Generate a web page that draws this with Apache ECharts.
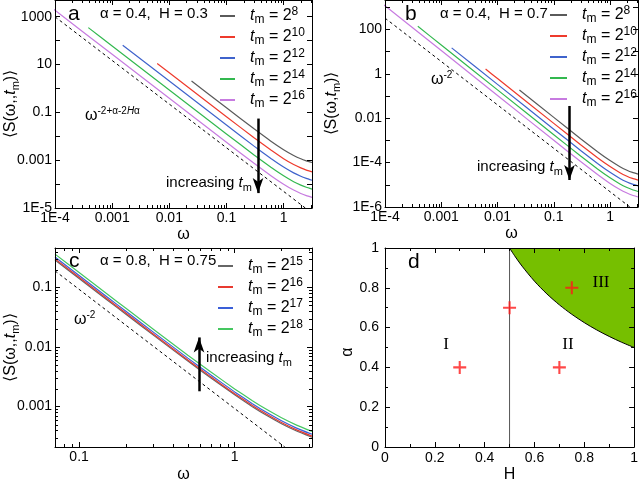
<!DOCTYPE html>
<html><head><meta charset="utf-8">
<script src="https://cdn.jsdelivr.net/npm/echarts@6.0.0/dist/echarts.min.js"></script>
<style>html,body{margin:0;padding:0;background:#fff}#c{width:641px;height:484px}</style>
</head><body><div id="c"></div>
<script>
// ---------- Panel a (alpha = 0.4, H = 0.3) ----------
const a_w8  = [0.0245, 0.1, 0.3, 0.6, 1, 1.5, 2, 2.5, 3.1416];
const a_s8  = [2.05, 0.155, 0.0210, 6.25e-3, 2.76e-3, 1.58e-3, 1.14e-3, 9.4e-4, 8.0e-4];
const a_w10 = [0.00614, 0.01, 0.1, 0.3, 0.6, 1, 1.5, 2, 2.5, 3.1416];
const a_s10 = [11.1, 4.54, 0.0658, 8.89e-3, 2.64e-3, 1.16e-3, 6.59e-4, 4.75e-4, 3.86e-4, 3.25e-4];
const a_w12 = [0.00153, 0.01, 0.1, 0.3, 0.6, 1, 1.5, 2, 2.5, 3.1416];
const a_s12 = [63.8, 2.03, 0.0294, 3.97e-3, 1.18e-3, 5.18e-4, 2.94e-4, 2.12e-4, 1.73e-4, 1.45e-4];
const a_w14 = [3.83e-4, 1e-3, 0.01, 0.1, 0.3, 0.6, 1, 1.5, 2, 2.5, 3.1416];
const a_s14 = [350, 59.8, 0.865, 0.01253, 1.69e-3, 5.02e-4, 2.21e-4, 1.256e-4, 9.06e-5, 7.36e-5, 6.19e-5];
const a_w16 = [9.6e-5, 1e-3, 0.01, 0.1, 0.3, 0.6, 1, 1.5, 2, 2.5, 3.1416];
const a_s16 = [1995, 26.7, 0.386, 5.6e-3, 7.57e-4, 2.24e-4, 9.86e-5, 5.61e-5, 4.05e-5, 3.29e-5, 2.77e-5];
const a_guideW = [1e-4, 2.4];
const a_guideS = [990, 1.0e-5];

// ---------- Panel b (alpha = 0.4, H = 0.7) ----------
const b_w8  = [0.0245, 0.1, 0.3, 0.6, 1, 1.5, 2, 2.5, 3.1416];
const b_s8  = [0.1845, 0.01084, 1.19e-3, 3.10e-4, 1.23e-4, 6.55e-5, 4.54e-5, 3.61e-5, 3.02e-5];
const b_w10 = [0.00614, 0.01, 0.1, 0.3, 0.6, 1, 1.5, 2, 2.5, 3.1416];
const b_s10 = [1.63, 0.608, 5.82e-3, 6.41e-4, 1.66e-4, 6.62e-5, 3.52e-5, 2.44e-5, 1.94e-5, 1.62e-5];
const b_w12 = [0.00153, 0.01, 0.1, 0.3, 0.6, 1, 1.5, 2, 2.5, 3.1416];
const b_s12 = [14.7, 0.334, 3.2e-3, 3.52e-4, 9.14e-5, 3.64e-5, 1.93e-5, 1.34e-5, 1.067e-5, 8.91e-6];
const b_w14 = [3.83e-4, 1e-3, 0.01, 0.1, 0.3, 0.6, 1, 1.5, 2, 2.5, 3.1416];
const b_s14 = [136.8, 19.7, 0.188, 1.80e-3, 1.98e-4, 5.14e-5, 2.05e-5, 1.087e-5, 7.53e-6, 6.0e-6, 5.01e-6];
const b_w16 = [9.6e-5, 1e-3, 0.01, 0.1, 0.3, 0.6, 1, 1.5, 2, 2.5, 3.1416];
const b_s16 = [1259, 11.07, 0.1057, 1.01e-3, 1.114e-4, 2.89e-5, 1.15e-5, 6.11e-6, 4.24e-6, 3.37e-6, 2.82e-6];
const b_guideW = [1e-4, 2.3];
const b_guideS = [321, 9.6e-7];

// ---------- Panel c (alpha = 0.8, H = 0.75) ----------
const c_w   = [0.07, 0.1, 0.15, 0.2, 0.3, 0.5, 0.7, 1, 1.3, 1.6, 2, 2.5, 3.1416];
const c_s15 = [0.2884, 0.1414, 0.0630, 0.03548, 0.01586, 5.81e-3, 3.05e-3, 1.576e-3, 9.98e-4, 7.15e-4, 5.16e-4, 3.89e-4, 3.06e-4];
const c_s16 = [0.302, 0.148, 0.066, 0.03715, 0.01661, 6.08e-3, 3.19e-3, 1.65e-3, 1.045e-3, 7.49e-4, 5.40e-4, 4.07e-4, 3.20e-4];
const c_s17 = [0.3236, 0.1587, 0.0707, 0.0398, 0.0178, 6.52e-3, 3.42e-3, 1.768e-3, 1.12e-3, 8.02e-4, 5.79e-4, 4.36e-4, 3.43e-4];
const c_s18 = [0.3631, 0.178, 0.0793, 0.04467, 0.01997, 7.31e-3, 3.84e-3, 1.984e-3, 1.256e-3, 9.0e-4, 6.5e-4, 4.9e-4, 3.85e-4];
const c_guideW = [0.07, 2.1];
const c_guideS = [0.19, 2.1e-4];

// ---------- Panel d (phase diagram) ----------
const d_boundH = [0.5, 0.52, 0.55, 0.6, 0.65, 0.7, 0.75, 0.8, 0.85, 0.9, 0.95, 1];
const d_boundA = [1, 0.9615, 0.9091, 0.8333, 0.7692, 0.7143, 0.6667, 0.625, 0.5882, 0.5556, 0.5263, 0.5];
const d_lineH = [0.5, 0.5];
const d_lineA = [0, 1];
const d_ptH = [0.3, 0.5, 0.7, 0.75];
const d_ptA = [0.4, 0.7, 0.4, 0.8];

// ---------- tick labels ----------
const ab_xTicks = [1e-4, 1e-3, 0.01, 0.1, 1];
const ab_xLabels = ['1E-4', '0.001', '0.01', '0.1', '1'];
const a_yTicks = [1e-5, 1e-3, 0.1, 10, 1000];
const a_yLabels = ['1E-5', '0.001', '0.1', '10', '1000'];
const b_yTicks = [1e-6, 1e-4, 0.01, 1, 100];
const b_yLabels = ['1E-6', '1E-4', '0.01', '1', '100'];
const c_xTicks = [0.1, 1];
const c_xLabels = ['0.1', '1'];
const c_yTicks = [0.001, 0.01, 0.1];
const c_yLabels = ['0.001', '0.01', '0.1'];

const legA = ['8', '10', '12', '14', '16'];
const legC = ['15', '16', '17', '18'];
const colA = ['#5a5a5a', '#ee3a2c', '#3f63cc', '#33b84f', '#c77be0'];
const colC = ['#666666', '#e83a30', '#3a5fd8', '#45c760'];

const FONT = '"Liberation Sans", Arial, Helvetica, sans-serif';
const SERIF = '"Liberation Serif", "Times New Roman", serif';

const SUP = {fontFamily: FONT, fontSize: 10, verticalAlign: 'top', lineHeight: 10};
const SUPI = {fontFamily: FONT, fontSize: 10, fontStyle: 'italic', verticalAlign: 'top', lineHeight: 10};
const SUB = {fontFamily: FONT, fontSize: 11, verticalAlign: 'bottom', lineHeight: 11};
const IT = {fontFamily: FONT, fontSize: 15, fontStyle: 'italic', lineHeight: 20};

function pairs(xs, ys) { return xs.map((x, i) => [x, ys[i]]); }
function fmtFrom(ticks, labels) {
  return function (v) {
    for (let i = 0; i < ticks.length; i++) {
      if (Math.abs(Math.log10(v) - Math.log10(ticks[i])) < 1e-6) return labels[i];
    }
    return '';
  };
}
function logMinor(lo, hi) {
  const out = [];
  for (let e = Math.floor(Math.log10(lo)) - 1; e <= Math.ceil(Math.log10(hi)); e++) {
    for (let k = 2; k <= 9; k++) {
      const v = k * Math.pow(10, e);
      if (v > lo * 1.0001 && v < hi * 0.9999) out.push(v);
    }
  }
  return out;
}

const yNameStyle = {fontFamily: FONT, fontSize: 16, color: '#000', lineHeight: 20,
  rich: {t: {fontFamily: FONT, fontSize: 16, fontStyle: 'italic', lineHeight: 20}, s: SUB}};
const xNameStyle = {fontFamily: FONT, fontSize: 16, color: '#000'};

function axes(dir, gi, cfg) {
  const common = {gridIndex: gi, type: cfg.type, min: cfg.min, max: cfg.max, z: 10,
    axisLine: {show: true, onZero: false, lineStyle: {color: '#000', width: 1}},
    axisTick: {show: true, inside: true, length: 5, lineStyle: {color: '#000', width: 1}},
    splitLine: {show: false}, minorSplitLine: {show: false}, silent: true};
  if (cfg.type === 'log') common.logBase = 10;
  if (cfg.interval) common.interval = cfg.interval;
  if (cfg.minor) common.minorTick = {show: true, splitNumber: cfg.minor, length: 3, lineStyle: {color: '#000', width: 1}};
  const main = Object.assign({}, common, {
    position: dir === 'x' ? 'bottom' : 'left',
    axisLabel: {show: true, color: '#000', fontFamily: FONT, fontSize: 14, margin: cfg.margin,
      formatter: cfg.fmt, showMinLabel: true, showMaxLabel: true},
    name: cfg.name, nameLocation: 'middle', nameGap: cfg.nameGap, nameRotate: dir === 'y' ? 90 : 0,
    nameMoveOverlap: false,
    nameTextStyle: dir === 'y' ? yNameStyle : xNameStyle
  });
  const mirror = Object.assign({}, common, {position: dir === 'x' ? 'top' : 'right', axisLabel: {show: false}, name: ''});
  return [main, mirror];
}

function line(name, ai, ws, ss, color) {
  return {type: 'line', name, xAxisIndex: ai, yAxisIndex: ai, data: pairs(ws, ss),
    showSymbol: false, symbol: 'none', smooth: 0.15,
    lineStyle: {color, width: 1.2}, itemStyle: {color}, emphasis: {disabled: true}, z: 3};
}
function arrow(p1, p2) {
  return {silent: true, symbol: ['none', 'arrow'], symbolSize: [8, 15], label: {show: false},
    lineStyle: {color: '#000', width: 2.5, type: 'solid'}, itemStyle: {color: '#000'},
    emphasis: {disabled: true}, animation: false, data: [[{coord: p1}, {coord: p2}]]};
}
function guide(ai, ws, ss, arr) {
  return {type: 'line', name: 'guide' + ai, xAxisIndex: ai, yAxisIndex: ai, data: pairs(ws, ss),
    showSymbol: false, symbol: 'none', lineStyle: {color: '#000', width: 1, type: [3, 3]},
    itemStyle: {color: '#000'}, emphasis: {disabled: true}, z: 3, markLine: arr};
}
function minorTicks(ai, xs, ys, xRef, yRef) {
  const data = xs.map(v => [v, yRef, 0]).concat(ys.map(v => [xRef, v, 1]));
  return {type: 'custom', xAxisIndex: ai, yAxisIndex: ai, silent: true, z: 11,
    dimensions: ['x', 'y', 'k'], encode: {x: 0, y: 1}, data,
    renderItem: function (params, api) {
      const cs = params.coordSys;
      const p = api.coord([api.value(0), api.value(1)]);
      const L = 3; const st = {stroke: '#000', lineWidth: 1};
      if (api.value(2) === 0) {
        const x = Math.round(p[0]) + 0.5;
        return {type: 'group', children: [
          {type: 'line', shape: {x1: x, y1: cs.y + cs.height, x2: x, y2: cs.y + cs.height - L}, style: st},
          {type: 'line', shape: {x1: x, y1: cs.y, x2: x, y2: cs.y + L}, style: st}]};
      }
      const y = Math.round(p[1]) + 0.5;
      return {type: 'group', children: [
        {type: 'line', shape: {x1: cs.x, y1: y, x2: cs.x + L, y2: y}, style: st},
        {type: 'line', shape: {x1: cs.x + cs.width, y1: y, x2: cs.x + cs.width - L, y2: y}, style: st}]};
    }};
}
function legendText(p) { return '{g| }{t|t}{s|m}{n| = 2}{p|' + p + '}'; }
const legRich = {
  g: {width: 10},
  t: {fontFamily: FONT, fontSize: 16, fontStyle: 'italic', lineHeight: 20},
  n: {fontFamily: FONT, fontSize: 16, lineHeight: 20},
  s: {fontFamily: FONT, fontSize: 12, verticalAlign: 'bottom', lineHeight: 12},
  p: {fontFamily: FONT, fontSize: 12, verticalAlign: 'top', lineHeight: 11}
};
function legend(left, top, names, labels, iw) {
  const map = {}; names.forEach((n, i) => { map[n] = legendText(labels[i]); });
  return {orient: 'vertical', left, top, padding: 0, itemWidth: iw, itemHeight: 2, itemGap: 1,
    icon: 'rect', selectedMode: false, data: names, formatter: n => map[n],
    textStyle: {color: '#000', fontFamily: FONT, fontSize: 16, lineHeight: 20, rich: legRich}};
}
function txt(x, y, text, size, extra) {
  return {type: 'text', x, y, silent: true, z: 100,
    style: Object.assign({text, fontFamily: FONT, fontSize: size, fill: '#000', verticalAlign: 'middle',
      align: 'left', lineHeight: 20, rich: {t: IT, s: SUB, p: SUP, q: SUPI}}, extra || {})};
}

const xA = axes('x', 0, {type: 'log', min: 1e-4, max: 3.1416, fmt: fmtFrom(ab_xTicks, ab_xLabels), margin: 3, name: 'ω', nameGap: 19});
const yA = axes('y', 0, {type: 'log', min: 1e-5, max: 5000, fmt: fmtFrom(a_yTicks, a_yLabels), margin: 3, name: '⟨S(ω,,{t|t}{s|m})⟩', nameGap: 34});
const xB = axes('x', 1, {type: 'log', min: 1e-4, max: 3.1416, fmt: fmtFrom(ab_xTicks, ab_xLabels), margin: 3, name: 'ω', nameGap: 19});
const yB = axes('y', 1, {type: 'log', min: 1e-6, max: 2100, fmt: fmtFrom(b_yTicks, b_yLabels), margin: 3, name: '⟨S(ω,{t|t}{s|m})⟩', nameGap: 43});
const xC = axes('x', 2, {type: 'log', min: 0.07, max: 3.1416, fmt: fmtFrom(c_xTicks, c_xLabels), margin: 3, name: 'ω', nameGap: 20});
const yC = axes('y', 2, {type: 'log', min: 2.1e-4, max: 0.46, fmt: fmtFrom(c_yTicks, c_yLabels), margin: 3, name: '⟨S(ω,,{t|t}{s|m})⟩', nameGap: 34});
const xD = axes('x', 3, {type: 'value', min: 0, max: 1, interval: 0.2, minor: 2, margin: 4, name: 'H', nameGap: 20});
const yD = axes('y', 3, {type: 'value', min: 0, max: 1, interval: 0.2, minor: 2, margin: 6, name: '', nameGap: 30});

const series = [];
const namesA = [], namesB = [], namesC = [];
[[a_w8, a_s8], [a_w10, a_s10], [a_w12, a_s12], [a_w14, a_s14], [a_w16, a_s16]].forEach((d, i) => {
  const n = 'a' + legA[i]; namesA.push(n); series.push(line(n, 0, d[0], d[1], colA[i]));
});
series.push(guide(0, a_guideW, a_guideS, arrow([0.357, 0.055], [0.357, 4.2e-5])));
series.push(minorTicks(0, logMinor(1e-4, 3.1416), [], 1e-4, 1e-5));

[[b_w8, b_s8], [b_w10, b_s10], [b_w12, b_s12], [b_w14, b_s14], [b_w16, b_s16]].forEach((d, i) => {
  const n = 'b' + legA[i]; namesB.push(n); series.push(line(n, 2, d[0], d[1], colA[i]));
});
series.push(guide(2, b_guideW, b_guideS, arrow([0.19, 0.0355], [0.19, 1.64e-5])));
series.push(minorTicks(2, logMinor(1e-4, 3.1416), [], 1e-4, 1e-6));

[c_s15, c_s16, c_s17, c_s18].forEach((s, i) => {
  const n = 'c' + legC[i]; namesC.push(n); series.push(line(n, 4, c_w, s, colC[i]));
});
series.push(guide(4, c_guideW, c_guideS, arrow([0.59, 1.81e-3], [0.59, 0.0145])));
series.push(minorTicks(4, logMinor(0.07, 3.1416), logMinor(2.1e-4, 0.46), 0.07, 2.1e-4));

series.push({type: 'line', name: 'III', xAxisIndex: 6, yAxisIndex: 6, data: pairs(d_boundH, d_boundA),
  showSymbol: false, symbol: 'none', smooth: 0.3, lineStyle: {color: '#000', width: 1},
  areaStyle: {color: '#76bf00', opacity: 1, origin: 'end'}, emphasis: {disabled: true}, z: 2});
series.push({type: 'line', name: 'Hhalf', xAxisIndex: 6, yAxisIndex: 6, data: pairs(d_lineH, d_lineA),
  showSymbol: false, symbol: 'none', lineStyle: {color: '#555', width: 1}, emphasis: {disabled: true}, z: 3});
series.push({type: 'scatter', name: 'pts', xAxisIndex: 6, yAxisIndex: 6, data: pairs(d_ptH, d_ptA),
  symbol: 'path://M4.2 0H5.8V4.2H10V5.8H5.8V10H4.2V5.8H0V4.2H4.2Z', symbolSize: 13,
  itemStyle: {color: '#ff1a1a'}, emphasis: {disabled: true}, z: 5});

const chart = echarts.init(document.getElementById('c'), null, {renderer: 'canvas'});
chart.setOption({
  animation: false,
  backgroundColor: '#fff',
  grid: [
    {left: 53, top: 0, width: 259, height: 208},
    {left: 385, top: 0, width: 254, height: 207},
    {left: 53, top: 248, width: 259, height: 204},
    {left: 385, top: 248, width: 254, height: 204}
  ],
  xAxis: [].concat(xA, xB, xC, xD),
  yAxis: [].concat(yA, yB, yC, yD),
  legend: [
    legend(220, 6, namesA, legA, 15),
    legend(550, 5, namesB, legA, 17),
    legend(218, 256, namesC, legC, 15)
  ],
  series,
  graphic: [
    txt(68, 14, 'a', 21), txt(100, 14, 'α = 0.4,  H = 0.3', 15),
    txt(85, 116, 'ω{p|-2+α-2}{q|H}{p|α}', 16), txt(166, 183, 'increasing {t|t}{s|m}', 15),
    txt(405, 14, 'b', 21), txt(440, 14, 'α = 0.4,  H = 0.7', 15),
    txt(431, 80, 'ω{p|-2}', 16), txt(477, 167, 'increasing {t|t}{s|m}', 15),
    txt(69, 261, 'c', 21), txt(100, 261, 'α = 0.8,  H = 0.75', 15),
    txt(74, 320, 'ω{p|-2}', 16), txt(206, 358, 'increasing {t|t}{s|m}', 15),
    txt(408, 262, 'd', 21),
    {type: 'text', x: 348, y: 352, rotation: Math.PI / 2, silent: true, z: 100,
      style: {text: 'α', fontFamily: FONT, fontSize: 16, fill: '#000', align: 'center', verticalAlign: 'middle'}},
    txt(446, 345, 'I', 17, {fontFamily: SERIF, align: 'center'}),
    txt(568, 345, 'II', 17, {fontFamily: SERIF, align: 'center'}),
    txt(601, 283, 'III', 17, {fontFamily: SERIF, align: 'center'})
  ]
});
</script></body></html>
